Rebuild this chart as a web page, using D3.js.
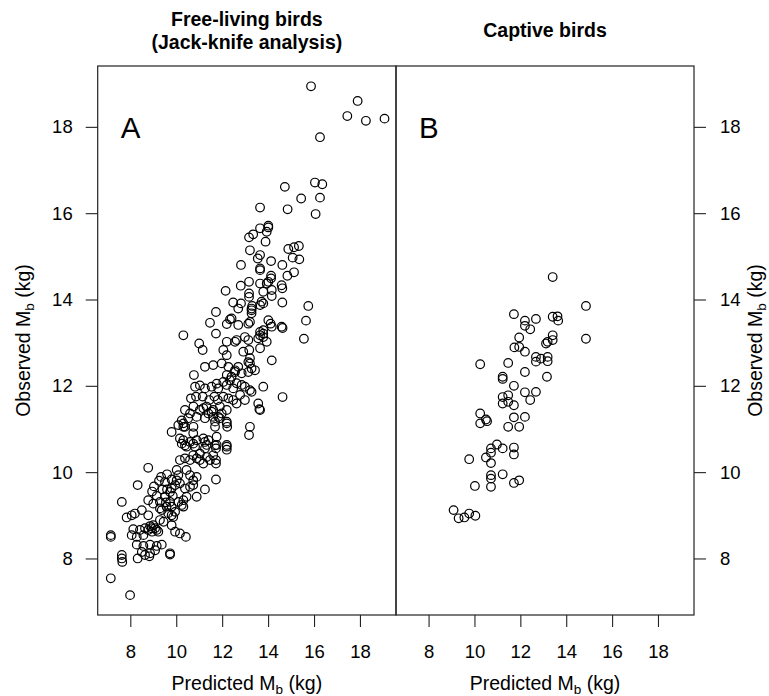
<!DOCTYPE html>
<html>
<head>
<meta charset="utf-8">
<script src="https://cdn.jsdelivr.net/npm/d3@7"></script>
<style>
body { margin: 0; background: #fff; }
text { font-family: "Liberation Sans", Arial, sans-serif; fill: #000; }
</style>
</head>
<body>
<script>
// predicted vs observed body mass (kg)
var freeLiving = [
	[15.87,18.94],[17.90,18.60],[17.45,18.25],[18.26,18.14],[19.07,18.19],[16.26,17.76],
	[14.73,16.61],[16.04,16.71],[16.36,16.67],[15.44,16.34],[16.26,16.36],
	[13.65,16.13],[14.85,16.09],[16.07,15.98],
	[14.01,15.71],[14.01,15.67],[13.65,15.65],[13.35,15.51],[13.17,15.44],[13.94,15.57],[13.89,15.34],[13.21,15.14],
	[13.65,15.03],[13.55,14.95],[14.88,15.17],[15.13,15.21],[15.34,15.24],[15.07,14.97],[15.36,14.93],
	[12.82,14.80],[13.65,14.72],[13.65,14.68],[14.13,14.89],[14.62,14.80],[15.13,14.63],[14.84,14.55],[14.13,14.55],[14.13,14.49],
	[13.17,14.41],[13.65,14.37],[13.94,14.37],[12.81,14.32],[12.15,14.20],[14.59,14.33],[14.62,14.26],[14.01,14.41],
	[13.17,14.14],[13.17,14.06],[13.79,14.18],[14.16,14.22],[14.16,14.08],
	[12.48,13.93],[12.82,13.91],[13.31,13.85],[13.72,13.95],[13.79,13.91],[14.62,13.93],[15.75,13.85],
	[15.65,13.51],[15.56,13.09],[14.63,11.74],[14.63,13.34],
	[11.73,13.71],[11.47,13.46],[12.20,13.43],[12.41,13.56],[12.70,13.41],[13.14,13.44],[13.21,13.48],[13.28,13.75],
	[13.28,13.68],[13.65,13.87],[14.01,13.52],[14.11,13.44],[14.59,13.37],
	[12.70,13.79],[12.34,13.54],[14.16,13.37],[13.79,13.29],[13.79,13.21],[13.79,13.13],[13.28,13.79],
	[10.31,13.17],[11.73,13.21],[12.63,13.06],[12.56,13.02],[12.99,13.13],[13.14,13.06],[13.65,13.25],[13.65,13.17],
	[13.57,13.10],[13.94,13.02],[11.00,12.98],[11.15,12.83],[12.05,12.83],[12.20,12.71],[12.92,12.79],[13.18,12.83],
	[13.21,12.64],[13.65,12.87],[14.16,12.59],[12.20,13.02],
	[11.61,12.48],[11.98,12.52],[11.25,12.44],[12.27,12.44],[12.56,12.36],[12.70,12.44],[13.14,12.55],[13.14,12.32],
	[13.43,12.36],[10.77,12.25],[12.20,12.25],[12.41,12.21],[12.56,12.32],[12.85,12.29],[13.21,12.52],[13.28,12.40],
	[10.82,11.98],[11.03,12.01],[11.25,11.94],[11.54,11.98],[11.76,12.05],[11.83,11.94],
	[12.05,12.09],[12.20,12.02],[12.34,12.13],[12.48,11.94],[12.63,12.06],[12.85,12.02],[12.99,11.98],[13.21,11.90],[13.79,11.98],
	[10.64,11.71],[10.86,11.75],[11.15,11.75],[11.44,11.67],[11.66,11.75],[11.81,11.67],[12.05,11.75],[12.27,11.71],
	[12.48,11.67],[12.78,11.79],[12.99,11.67],[13.28,11.86],
	[13.57,11.59],[13.65,11.44],[13.21,11.05],[12.63,11.59],[13.62,11.46],[13.17,10.86],
	[10.38,11.44],[10.75,11.52],[11.03,11.44],[11.32,11.52],[11.61,11.44],[11.90,11.52],[12.20,11.44],
	[10.52,11.25],[10.89,11.28],[11.25,11.25],[11.61,11.28],[11.90,11.25],[12.20,11.17],
	[10.09,11.09],[10.38,11.05],[10.75,11.05],[11.69,11.05],[12.20,11.13],[12.22,11.05],
	[10.60,11.36],[11.18,11.48],[11.40,11.36],[11.98,11.36],[11.83,11.28],[11.69,11.17],[10.31,11.13],[11.54,11.40],
	[9.80,10.93],[10.24,11.20],[10.31,11.05],
	[10.16,10.78],[10.24,10.66],[10.38,10.62],[10.60,10.70],[10.89,10.74],[11.18,10.78],[11.25,10.70],[11.40,10.74],
	[11.69,10.62],[11.73,10.55],[12.20,10.59],[12.20,10.52],
	[10.31,10.74],[10.45,10.59],[10.74,10.90],[10.74,10.66],[10.82,10.59],[11.25,10.55],[11.33,10.63],
	[11.76,10.82],[11.76,10.63],[12.20,10.63],
	[10.74,10.39],[11.03,10.43],[11.33,10.35],[11.61,10.39],
	[10.16,10.28],[10.38,10.32],[10.60,10.28],[10.89,10.32],[11.03,10.28],[11.18,10.20],[11.47,10.28],[11.73,10.28],[11.73,10.20],
	[10.02,10.05],[10.09,9.93],[10.02,9.81],[10.45,10.05],[10.60,9.93],[10.74,9.81],[10.89,9.89],
	[9.80,9.83],[9.80,9.62],[9.73,9.54],[9.34,9.89],[9.51,9.77],
	[8.78,10.10],[8.32,9.70],[9.03,9.67],
	[10.31,9.35],[10.24,9.24],[10.31,9.20],[10.09,9.31],[10.45,9.43],[10.60,9.66],[10.74,9.70],
	[10.89,9.43],[11.25,9.60],[11.73,9.83],[10.16,9.74],[10.38,9.62],[9.95,9.70],
	[9.29,9.31],[9.29,9.16],[8.78,9.35],[9.51,9.43],[9.00,9.27],
	[9.58,9.20],[9.80,9.20],[9.95,9.08],[9.73,9.31],
	[8.95,9.55],[9.15,9.45],[9.40,9.60],[9.55,9.30],[9.65,9.05],[9.45,8.85],[9.60,9.60],[9.25,9.80],[9.60,9.95],[9.85,9.45],
	[7.63,9.31],[7.84,8.95],[8.06,9.00],[8.20,9.04],[8.50,9.12],[8.78,9.00],
	[8.13,8.68],[8.42,8.66],[8.64,8.70],[8.78,8.66],[8.93,8.70],[9.15,8.66],[9.22,8.62],
	[8.06,8.54],[8.28,8.50],[8.57,8.54],
	[8.28,8.32],[8.57,8.29],[8.86,8.32],[9.15,8.29],[9.37,8.32],
	[8.50,8.15],[8.86,8.12],[9.08,8.19],
	[9.80,9.00],[9.87,8.96],[9.80,8.77],[9.95,8.62],[10.16,8.58],[10.42,8.50],
	[9.29,8.89],[9.37,9.12],[8.86,8.75],[9.00,8.77],[9.08,8.70],[8.95,8.62],
	[7.15,7.54],[7.99,7.15],[7.15,8.54],[7.15,8.50],[7.63,8.08],[7.63,8.00],[7.65,7.92],
	[8.32,8.00],[8.64,8.08],[8.83,8.05],[9.73,8.12],[9.73,8.09]
];

var captive = [
	[13.41,14.52],[14.86,13.85],[14.86,13.09],[11.72,13.66],[12.20,13.51],[12.20,13.39],[12.68,13.55],[12.43,13.31],
	[13.41,13.60],[13.62,13.61],[13.65,13.51],[13.41,13.17],[13.41,13.06],[13.19,13.02],[13.12,12.98],
	[11.95,13.12],[11.74,12.89],[11.95,12.90],[12.20,12.79],
	[12.68,12.67],[12.68,12.56],[12.90,12.63],[13.19,12.67],[13.19,12.57],
	[10.25,12.50],[11.47,12.53],[12.20,12.32],[13.16,12.21],[11.23,12.21],[11.23,12.16],[11.72,12.00],
	[12.20,11.85],[12.68,11.86],[12.43,11.67],
	[11.23,11.74],[11.47,11.78],[11.23,11.59],[11.47,11.63],[11.72,11.55],
	[10.25,11.36],[10.25,11.13],[10.50,11.22],[10.55,11.18],
	[11.72,11.27],[12.20,11.28],[11.47,11.05],[11.95,11.05],
	[10.98,10.64],[10.72,10.55],[10.72,10.45],[11.23,10.55],[11.72,10.57],[11.72,10.41],
	[9.77,10.30],[10.50,10.34],
	[10.72,10.21],[10.72,9.93],[10.72,9.85],[11.23,9.95],
	[10.02,9.68],[10.72,9.66],[11.72,9.75],[11.95,9.81],
	[9.09,9.12],[9.31,8.93],[9.56,8.95],[9.77,9.04],[10.04,8.99]
];

var xTicks = [8, 10, 12, 14, 16, 18];
var yTicks = [8, 10, 12, 14, 16, 18];
var panelTitles = [["Free-living birds", "(Jack-knife analysis)"], ["Captive birds"]];
var panelLetters = ["A", "B"];
var xDomain = [6.58, 19.57];
var yDomain = [6.69, 19.41];

var width = 769, height = 696;
var plotTop = 66, plotBottom = 615;

var svg = d3.select("body").append("svg")
	.attr("width", width)
	.attr("height", height);

var y = d3.scaleLinear().domain(yDomain).range([plotBottom, plotTop]);

var panels = [
	{left: 97.7, right: 396, data: freeLiving},
	{left: 396, right: 694, data: captive}
];

function addMb(sel, label) {
	// "Predicted M_b (kg)" with subscript b
	sel.append("tspan").text(label + " M");
	sel.append("tspan").attr("dy", 4).style("font-size", "13.5px").text("b");
	sel.append("tspan").attr("dy", -4).text(" (kg)");
}

panels.forEach(function(p, i) {
	var x = d3.scaleLinear().domain(xDomain).range([p.left, p.right]);
	var cx = (p.left + p.right) / 2;

	var gx = svg.append("g")
		.attr("transform", "translate(0," + plotBottom + ")")
		.call(d3.axisBottom(x).tickValues(xTicks).tickSize(12).tickPadding(18));
	gx.select(".domain").remove();
	gx.selectAll("line").attr("stroke", "#222").attr("stroke-width", 1.1);
	gx.selectAll("text").attr("font-size", 18.5).attr("font-family", "Liberation Sans, Arial, sans-serif").attr("fill", "#000");

	svg.selectAll(".pt" + i)
		.data(p.data)
		.enter().append("circle")
		.attr("class", "pt" + i)
		.attr("cx", function(d) { return x(d[0]); })
		.attr("cy", function(d) { return y(d[1]); })
		.attr("r", 4.3)
		.attr("fill", "none")
		.attr("stroke", "#000")
		.attr("stroke-width", 1.2);

	svg.append("rect")
		.attr("x", p.left)
		.attr("y", plotTop)
		.attr("width", p.right - p.left)
		.attr("height", plotBottom - plotTop)
		.attr("fill", "none")
		.attr("stroke", "#222")
		.attr("stroke-width", 1.2);

	svg.append("text")
		.attr("x", p.left + 23)
		.attr("y", 137.5)
		.attr("font-size", 29.5)
		.text(panelLetters[i]);

	var t = panelTitles[i];
	var ty = t.length == 2 ? [25.7, 49.3] : [36.7];
	t.forEach(function(line, j) {
		svg.append("text")
			.attr("x", cx)
			.attr("y", ty[j])
			.attr("text-anchor", "middle")
			.attr("font-size", 19.5)
			.attr("font-weight", "bold")
			.text(line);
	});

	var xl = svg.append("text")
		.attr("x", cx)
		.attr("y", 690)
		.attr("text-anchor", "middle")
		.attr("font-size", 19.5);
	addMb(xl, "Predicted");
});

var gl = svg.append("g")
	.attr("transform", "translate(97.7,0)")
	.call(d3.axisLeft(y).tickValues(yTicks).tickSize(12).tickPadding(13));
var gr = svg.append("g")
	.attr("transform", "translate(694,0)")
	.call(d3.axisRight(y).tickValues(yTicks).tickSize(12).tickPadding(14));
[gl, gr].forEach(function(g) {
	g.select(".domain").remove();
	g.selectAll("line").attr("stroke", "#222").attr("stroke-width", 1.1);
	g.selectAll("text").attr("font-size", 18.5).attr("font-family", "Liberation Sans, Arial, sans-serif").attr("fill", "#000");
});

[30, 762].forEach(function(bx) {
	var yl = svg.append("text")
		.attr("transform", "translate(" + bx + "," + (plotTop + plotBottom) / 2 + ") rotate(-90)")
		.attr("text-anchor", "middle")
		.attr("font-size", 19.5);
	addMb(yl, "Observed");
});
</script>
</body>
</html>
